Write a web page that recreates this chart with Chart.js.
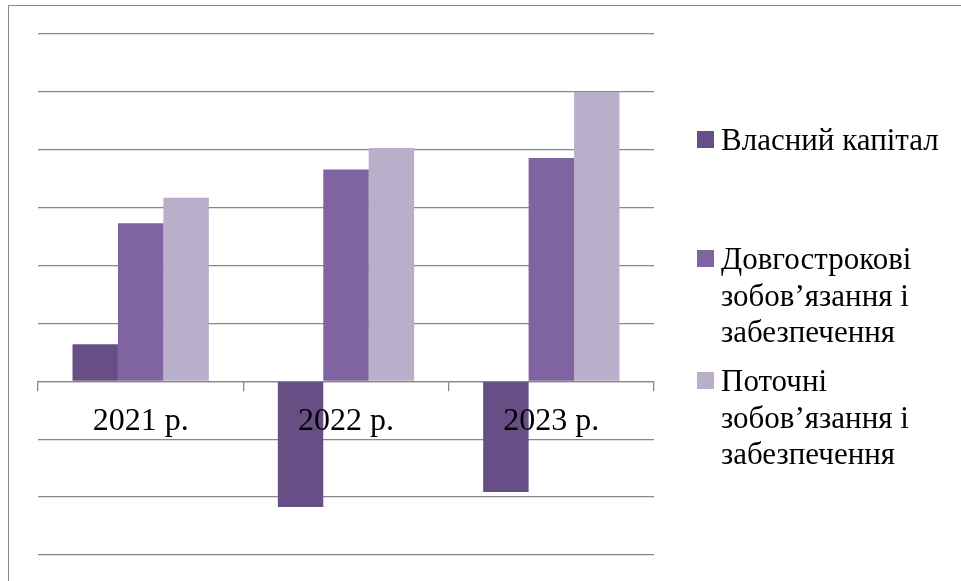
<!DOCTYPE html>
<html lang="uk">
<head>
<meta charset="utf-8">
<title>Структура капіталу</title>
<script src="https://cdn.jsdelivr.net/npm/chart.js@4.4.1/dist/chart.umd.min.js"></script>
<style>
  html, body { margin: 0; padding: 0; background: #fff; overflow: hidden; }
  body { width: 961px; height: 581px; position: relative; }
  /* рамка області діаграми */
  .frame {
    position: absolute; left: 8px; top: 5px;
    width: 1000px; height: 700px;
    border-left: 1px solid #8a8a8a; border-top: 1px solid #8a8a8a;
  }
  #chart { position: absolute; left: 0; top: 0; }
</style>
</head>
<body>
<div class="frame"></div>
<canvas id="chart" width="961" height="581"></canvas>

<script>
// Роки
const years = ['2021 р.', '2022 р.', '2023 р.'];

// Назви рядів (по рядках, як у легенді)
const seriesNames = [
  ['Власний капітал'],
  ['Довгострокові', 'зобов’язання і', 'забезпечення'],
  ['Поточні', 'зобов’язання і', 'забезпечення']
];

// Значення рядів
const equity = [0.64, -2.17, -1.91];
const longTerm = [2.73, 3.66, 3.86];
const current = [3.17, 4.03, 5.0];

// Межі осі значень
const yMin = -3;
const yMax = 6;
const yStep = 1;

const colors = ['#674f85', '#8064a2', '#b9afca'];
const gridColor = '#888888';
const serifFont = "'Liberation Serif', 'Times New Roman', 'DejaVu Serif', serif";

const seriesValues = [equity, longTerm, current];

// Легенда праворуч: квадрат + багаторядковий підпис
const sideLegend = {
  id: 'sideLegend',
  afterDraw(chart) {
    const ctx = chart.ctx;
    const baselines = [150, 269, 391];
    const lineH = 36.5;
    const textX = 721;
    ctx.save();
    ctx.font = '31px ' + serifFont;
    ctx.textBaseline = 'alphabetic';
    ctx.textAlign = 'left';
    chart.data.datasets.forEach((ds, i) => {
      const y0 = baselines[i];
      ctx.fillStyle = ds.backgroundColor;
      ctx.fillRect(textX - 24, y0 - 19, 17, 17);
      ctx.fillStyle = '#000';
      seriesNames[i].forEach((line, k) => {
        ctx.fillText(line, textX, y0 + k * lineH);
      });
    });
    ctx.restore();
  }
};

const chart = new Chart(document.getElementById('chart'), {
  type: 'bar',
  data: {
    labels: years,
    datasets: seriesValues.map((vals, i) => ({
      label: seriesNames[i].join(' '),
      data: vals,
      backgroundColor: colors[i],
      borderWidth: 0,
      categoryPercentage: 0.664,
      barPercentage: 1.0
    }))
  },
  options: {
    responsive: false,
    animation: false,
    layout: {
      padding: { left: 38, top: 34, right: 307, bottom: 26 }
    },
    plugins: {
      legend: { display: false },
      tooltip: { enabled: false }
    },
    scales: {
      x: {
        position: { y: 0 },
        grid: {
          drawOnChartArea: false,
          drawTicks: true,
          tickLength: 9,
          color: gridColor,
          lineWidth: 1.3
        },
        border: { display: true, color: gridColor, width: 1.3 },
        ticks: {
          z: 1,
          padding: 12,
          color: '#000',
          font: { family: serifFont, size: 32 }
        }
      },
      y: {
        min: yMin,
        max: yMax,
        ticks: { display: false, stepSize: yStep },
        grid: { drawTicks: false, color: gridColor, lineWidth: 1.3 },
        border: { display: false }
      }
    }
  },
  plugins: [sideLegend]
});
</script>
</body>
</html>
